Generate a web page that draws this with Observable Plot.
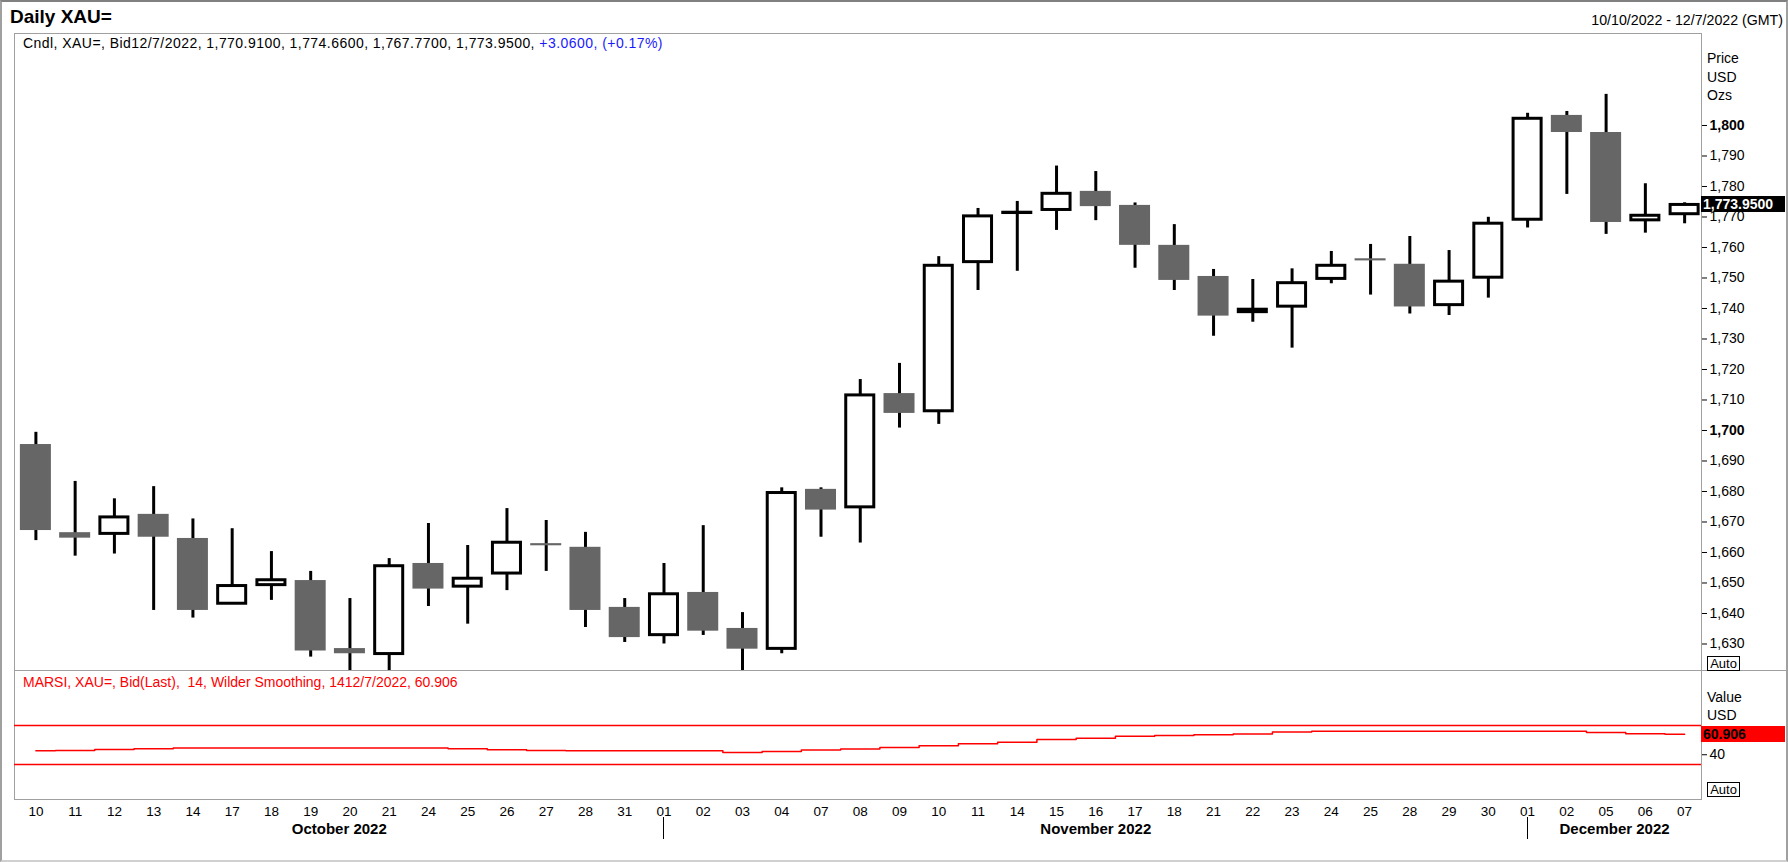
<!DOCTYPE html>
<html><head><meta charset="utf-8">
<script src="https://cdn.jsdelivr.net/npm/d3@7"></script>
<script src="https://cdn.jsdelivr.net/npm/@observablehq/plot@0.6"></script>
<style>
html,body{margin:0;padding:0;background:#fff;overflow:hidden;}
#page{position:relative;width:1788px;height:862px;overflow:hidden;background:#fff;font-family:"Liberation Sans",Arial,sans-serif;color:#000;}
.abs{position:absolute;white-space:pre;}
svg{display:block;}
</style></head><body><div id="page"></div>
<script>
// ---- data ----
const dayLabels = ["10","11","12","13","14","17","18","19","20","21","24","25","26","27","28","31",
  "01","02","03","04","07","08","09","10","11","14","15","16","17","18","21","22","23","24","25","28","29","30",
  "01","02","05","06","07"];
const monthNames = ["October 2022","November 2022","December 2022"];
const opens  = [1695.4,1666.5,1666.1,1672.5,1664.6,1643.2,1649.3,1650.8,1628.5,1626.7,1656.4,1648.8,1653.1,1662.9,1661.7,1642.0,
  1632.9,1646.9,1635.1,1628.4,1680.7,1674.8,1712.1,1706.3,1755.2,1771.3,1772.3,1778.4,1773.8,1760.7,1750.5,1738.8,1740.6,1749.7,1756.3,1754.5,1741.1,1750.1,
  1769.1,1803.3,1797.7,1768.9,1770.91];
const highs  = [1699.4,1683.3,1677.6,1681.6,1671.0,1667.8,1660.3,1653.8,1644.9,1658.0,1669.5,1662.3,1674.4,1670.5,1666.6,1644.9,
  1656.4,1668.8,1640.3,1681.2,1681.2,1716.7,1722.0,1757.0,1772.8,1775.1,1786.7,1784.9,1774.6,1767.5,1752.8,1749.5,1753.0,1758.7,1761.0,1763.6,1759.0,1769.9,
  1804.0,1804.6,1810.2,1780.9,1774.66];
const lows   = [1663.9,1658.8,1659.5,1641.0,1638.5,1643.0,1644.3,1625.7,1618.0,1617.0,1642.3,1636.5,1647.5,1653.8,1635.4,1630.5,
  1630.0,1632.8,1616.0,1626.8,1665.0,1663.1,1700.8,1702.0,1745.9,1752.2,1765.6,1768.8,1753.2,1745.9,1730.9,1735.5,1727.0,1748.1,1744.4,1738.2,1737.7,1743.4,
  1766.4,1777.4,1764.3,1764.7,1767.77];
const closes = [1667.2,1664.7,1671.5,1665.0,1641.0,1649.0,1650.9,1627.7,1626.8,1655.5,1648.0,1651.4,1663.2,1662.2,1641.0,1632.1,
  1646.3,1634.2,1628.3,1679.5,1673.9,1711.5,1705.6,1754.0,1770.2,1771.4,1777.6,1773.4,1760.7,1749.2,1737.5,1739.6,1748.3,1754.0,1755.6,1740.5,1748.8,1767.8,
  1802.2,1797.7,1768.2,1770.4,1773.95];
const rsiValues = [44.1,44.3,45.5,46.2,46.9,46.9,47.0,46.9,46.8,46.9,46.8,46.2,45.0,44.3,44.1,44.0,
  44.1,44.0,42.4,43.4,44.8,45.8,47.5,49.3,51.4,52.8,55.6,56.9,59.0,59.7,60.4,61.4,63.2,64.1,64.1,64.1,64.1,64.2,
  64.2,64.1,62.8,61.6,60.906];
const priceTicks = d3.range(1630, 1801, 10);
const rsiTicks = [40];
const rsiBands = [30, 70];
const headerLeft = "Cndl, XAU=, Bid12/7/2022, 1,770.9100, 1,774.6600, 1,767.7700, 1,773.9500, ";
const headerChange = "+3.0600, (+0.17%)";
const rsiTitle = "MARSI, XAU=, Bid(Last),  14, Wilder Smoothing, 1412/7/2022, 60.906";

// ---- derived tables ----
const candles = dayLabels.map((d, i) => ({i, label: d, open: opens[i], high: highs[i], low: lows[i], close: closes[i]}));
const up = candles.filter(d => d.close >= d.open);
const down = candles.filter(d => d.close < d.open);
const rsiData = rsiValues.map((v, i) => ({i, v}));
const xDomain = [-0.545, 42.43];
const monthStarts = [0];
for (let i = 1; i < dayLabels.length; i++) if (+dayLabels[i] < +dayLabels[i - 1]) monthStarts.push(i);
const bounds = [xDomain[0], ...monthStarts.slice(1), xDomain[1]];
const months = monthNames.map((name, k) => ({name, center: (bounds[k] + bounds[k + 1]) / 2}));

const page = document.getElementById("page");
function box(css, text) {
  const d = document.createElement("div");
  d.className = "abs";
  if (text != null) d.textContent = text;
  Object.assign(d.style, css);
  page.appendChild(d);
  return d;
}
const FONT = '"Liberation Sans", Arial, sans-serif';

// frame lines
box({left: "14px", top: "33px", width: "1688px", height: "767px", boxSizing: "border-box", border: "1px solid #a0a0a0"});
box({left: "14px", top: "670px", width: "1772px", height: "1px", background: "#a0a0a0"});

// ---- price panel ----
const priceChart = Plot.plot({
  width: 1788, height: 637, marginLeft: 14, marginRight: 87, marginTop: 0, marginBottom: 0,
  style: {fontFamily: FONT, fontSize: "14px", background: "transparent", color: "#000", overflow: "hidden"},
  x: {type: "linear", domain: xDomain, axis: null},
  y: {domain: [1621.31, 1830.16], axis: "right", ticks: priceTicks, tickFormat: d3.format(",d"), tickSize: 5, tickPadding: 3, label: null},
  marks: [
    Plot.ruleX(candles, {x: "i", y1: "low", y2: "high", stroke: "#000", strokeWidth: 3}),
    Plot.rect(down, {x1: d => d.i - 0.395, x2: d => d.i + 0.395, y1: "open", y2: "close", fill: "#666666"}),
    Plot.rect(up, {x1: d => d.i - 0.357, x2: d => d.i + 0.357, y1: "open", y2: "close", fill: "#ffffff", stroke: "#000", strokeWidth: 3})
  ]
});
const boldTicks = priceTicks.filter(v => v % 100 === 0).map(d3.format(",d"));
d3.select(priceChart).selectAll("text").filter(function() { return boldTicks.includes(this.textContent.trim()); }).attr("font-weight", "bold");
const pw = box({left: "0px", top: "33px", width: "1788px", height: "637px", overflow: "hidden"});
pw.appendChild(priceChart);

// ---- RSI panel ----
const rsiChart = Plot.plot({
  width: 1788, height: 189, marginLeft: 14, marginRight: 87, marginTop: 0, marginBottom: 60,
  style: {fontFamily: FONT, fontSize: "13.5px", background: "transparent", color: "#000"},
  x: {type: "linear", domain: xDomain, ticks: d3.range(dayLabels.length), tickFormat: i => dayLabels[i], tickSize: 0, tickPadding: 7, label: null},
  y: {domain: [-5.9, 126.4], axis: "right", ticks: rsiTicks, tickSize: 5, tickPadding: 3, label: null},
  marks: [
    Plot.ruleY(rsiBands, {stroke: "#ff0000", strokeWidth: 1.3}),
    Plot.line(rsiData, {x: "i", y: "v", curve: "step", stroke: "#ff0000", strokeWidth: 1.5}),
    Plot.text(months, {x: "center", text: "name", frameAnchor: "bottom", dy: 34, fontWeight: "bold", fontSize: 15})
  ]
});
d3.select(rsiChart).selectAll("text").filter(function() { return this.textContent.trim() === "40"; }).style("font-size", "14px");
const rw = box({left: "0px", top: "670px", width: "1788px", height: "189px"});
rw.appendChild(rsiChart);

// month separators
const xs = rsiChart.scale("x");
monthStarts.slice(1).forEach(i => {
  box({left: (Math.round(xs.apply(i)) - 0.5) + "px", top: "817px", width: "1px", height: "22px", background: "#000"});
});

// ---- texts ----
box({left: "10px", top: "5px", lineHeight: "24px", fontSize: "19px", fontWeight: "bold"}, "Daily XAU=");
box({right: "5px", top: "10px", lineHeight: "20px", fontSize: "14.2px"}, "10/10/2022 - 12/7/2022 (GMT)");
const hdr = box({left: "23px", top: "34px", lineHeight: "18px", fontSize: "14px", letterSpacing: "0.45px"}, headerLeft);
const blue = document.createElement("span");
blue.textContent = headerChange; blue.style.color = "#1a1aff";
hdr.appendChild(blue);
box({left: "23px", top: "673px", lineHeight: "18px", fontSize: "14px", color: "#ff0000"}, rsiTitle);

["Price", "USD", "Ozs"].forEach((t, k) => box({left: "1707px", top: [49, 68, 86][k] + "px", lineHeight: "18px", fontSize: "14px"}, t));
["Value", "USD"].forEach((t, k) => box({left: "1707px", top: [688, 706][k] + "px", lineHeight: "18px", fontSize: "14px"}, t));

// last price tag
const ys = priceChart.scale("y");
const lastClose = closes[closes.length - 1];
const py = 33 + ys.apply(lastClose);
box({left: "1701px", top: (py - 8) + "px", width: "84px", height: "16px", lineHeight: "16px", background: "#000", color: "#fff",
  fontSize: "14px", fontWeight: "bold", paddingLeft: "2px", boxSizing: "border-box"}, d3.format(",.4f")(lastClose));

// RSI value tag
const rys = rsiChart.scale("y");
const lastRsi = rsiValues[rsiValues.length - 1];
const ry = 670 + rys.apply(lastRsi);
box({left: "1701px", top: (ry - 8) + "px", width: "84px", height: "16px", lineHeight: "16px", background: "#ff0000", color: "#000",
  fontSize: "14px", fontWeight: "bold", paddingLeft: "2px", boxSizing: "border-box"}, d3.format(".3f")(lastRsi));

// Auto buttons
[656, 782].forEach(t => box({left: "1707px", top: t + "px", width: "33px", height: "15px", lineHeight: "13px", border: "1px solid #000",
  boxSizing: "border-box", fontSize: "13px", textAlign: "center", background: "#fff"}, "Auto"));

// outer window border
box({left: "0px", top: "0px", width: "1788px", height: "862px", boxSizing: "border-box",
  borderTop: "2px solid #808080", borderLeft: "2px solid #a0a0a0", borderRight: "2px solid #a0a0a0", borderBottom: "2px solid #d0d0d0", pointerEvents: "none"});
</script>
</body></html>
